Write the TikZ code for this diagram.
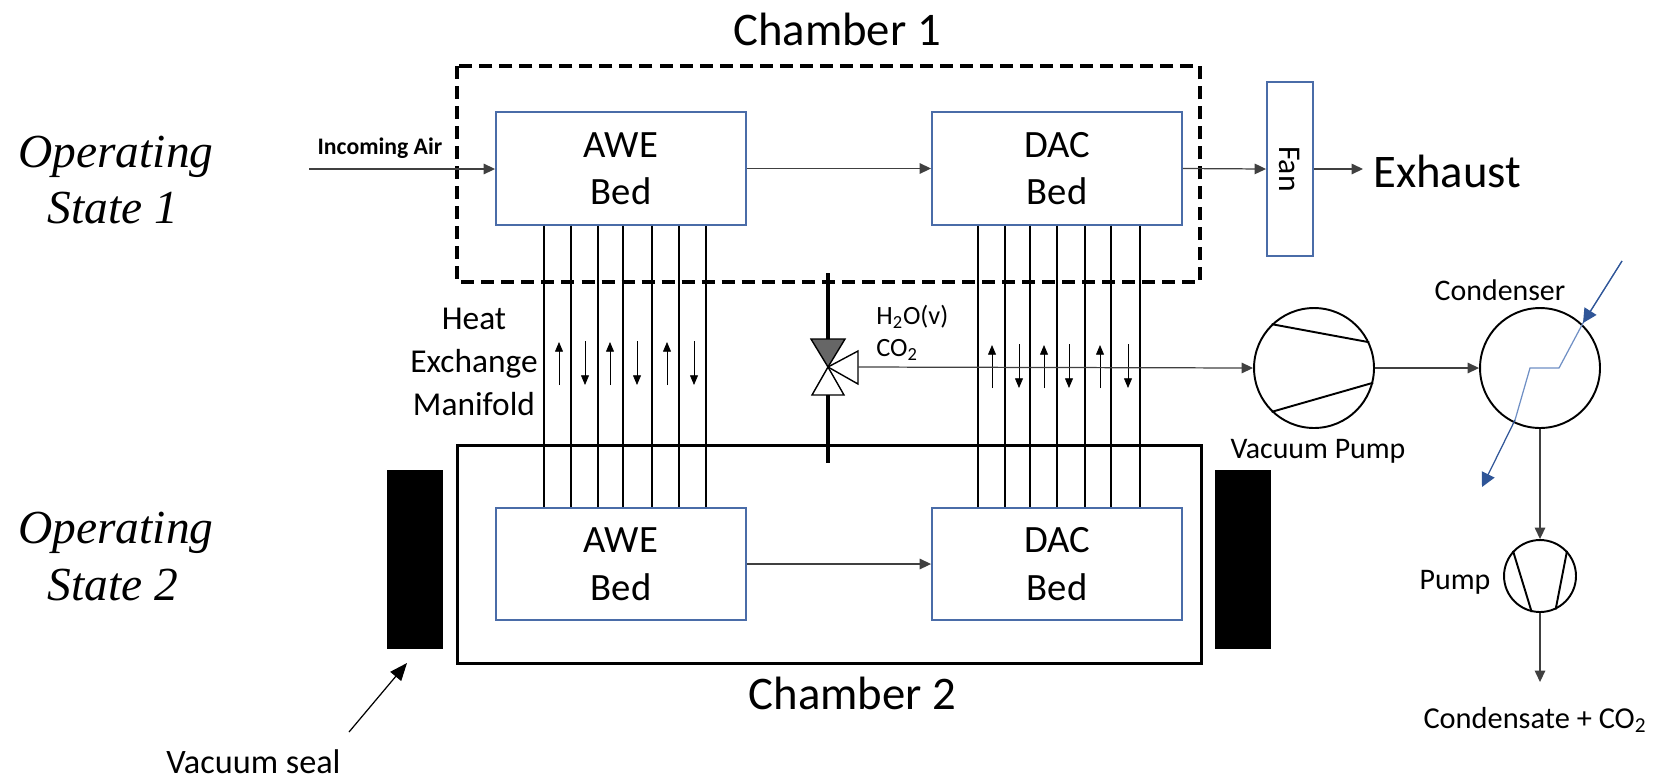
\documentclass[tikz,border=0pt]{standalone}
\usepackage{fontspec}
\setmainfont{Carlito}
\newfontfamily\opfont{Liberation Serif}
\usetikzlibrary{arrows.meta}
\definecolor{bedblue}{HTML}{4A6CA8}
\definecolor{coolblue}{HTML}{6F8FC4}
\definecolor{tipblue}{HTML}{2F5597}
\tikzset{
  bed/.style={draw=bedblue, line width=1.1pt, minimum width=5cm, minimum height=2.25cm, align=center, inner sep=0pt, font=\fontsize{22}{27}\selectfont},
  flow/.style={draw=black!75, line width=0.7pt, -{Triangle[length=6.5pt,width=6pt]}},
  tube/.style={line width=1pt},
  smallarrow/.style={line width=0.45pt, -{Triangle[length=5.5pt,width=4.5pt]}},
  machine/.style={draw, circle, line width=1.1pt, inner sep=0pt},
  optext/.style={font=\opfont\itshape\fontsize{27}{29}\selectfont, inner sep=0pt, anchor=base},
  label/.style={font=\fontsize{17}{20}\selectfont, inner sep=0pt},
  big/.style={font=\fontsize{26.6}{30}\selectfont, inner sep=0pt, anchor=base},
}
\begin{document}
\begin{tikzpicture}[x=0.02cm, y=-0.02cm]
\useasboundingbox (0,0) rectangle (1659,782);
%% chambers and seals
\draw[line width=1.75pt, dash pattern=on 7.4pt off 4pt] (457,66) rectangle (1200,282);
\draw[line width=1.7pt] (457,445) rectangle (1201,663);
\fill[black] (387,470) rectangle (443,649);
\fill[black] (1215,470) rectangle (1271,649);
%% beds
\node[bed] (aweup) at (621,168.5) {AWE\\Bed};
\node[bed] (dacup) at (1057,168.5) {DAC\\Bed};
\node[bed] (awelow) at (621,564) {AWE\\Bed};
\node[bed] (daclow) at (1057,564) {DAC\\Bed};
\node[draw=bedblue, line width=1.1pt, minimum width=0.92cm, minimum height=3.48cm, inner sep=0pt] (fan) at (1290,169) {};
\node[rotate=-90, inner sep=0pt, font=\fontsize{18}{20}\selectfont] (fantext) at (fan.center) {Fan};
%% manifold
\foreach \x in {544,571,598,623,652,679,706}
  \draw[tube] (aweup.south -| \x,0) -- (awelow.north -| \x,0);
\foreach \x in {978,1005,1030,1057,1085,1111,1140}
  \draw[tube] (dacup.south -| \x,0) -- (daclow.north -| \x,0);
\foreach \x in {559,610,667}
  \draw[smallarrow] (\x,385) -- (\x,342);
\foreach \x in {585,637,694}
  \draw[smallarrow] (\x,341) -- (\x,385);
\foreach \x in {992,1044,1100}
  \draw[smallarrow] (\x,388) -- (\x,345);
\foreach \x in {1019,1069,1128}
  \draw[smallarrow] (\x,344) -- (\x,388);
%% valve
\coordinate (V) at (828,367);
\coordinate (Vtop) at (828,273);
\coordinate (Vbot) at (828,463);
\draw[line width=2.6pt] (Vtop) -- (828,339);
\draw[line width=2.6pt] (828,395) -- (Vbot);
\filldraw[fill=black!60, line width=0.8pt] (V) -- (811,339) -- (845,339) -- cycle;
\draw[line width=0.8pt] (V) -- (812,395) -- (844,395) -- cycle;
\draw[line width=0.8pt] (V) -- (858,351) -- (858,384) -- cycle;
\coordinate (Vout) at (858,367);
%% machines
\node[machine, minimum size=2.4cm] (vacpump) at (1314,368) {};
\node[machine, minimum size=2.4cm] (condenser) at (1540,368) {};
\node[machine, minimum size=1.44cm] (pump) at (1540,576) {};
\draw[line width=1.1pt] (vacpump.134) -- (vacpump.25);
\draw[line width=1.1pt] (vacpump.226) -- (vacpump.-14);
\draw[line width=1.1pt] (pump.137) -- (pump.257);
\draw[line width=1.1pt] (pump.43) -- (pump.295);
%% cooling line
\draw[coolblue, line width=0.7pt] (1622,261) -- (1583,323) -- (1559,368) -- (1530,368) -- (1515,420);
\draw[tipblue, line width=0.7pt, -{Triangle[length=8pt,width=8pt]}] (1622,261) -- (1583,323);
\draw[tipblue, line width=0.7pt, -{Triangle[length=8pt,width=8pt]}] (1515,420) -- (1482,487);
%% labels
\node[big] (ch1) at (837,45) {Chamber 1};
\node[big] (ch2) at (852.5,709) {Chamber 2};
\node[optext] (op1a) at (116,167) {Operating};
\node[optext] (op1b) at (113,223) {State 1};
\node[optext] (op2a) at (116,543) {Operating};
\node[optext] (op2b) at (113,600) {State 2};
\node[inner sep=0pt, anchor=base, font=\bfseries\fontsize{13.5}{16}\selectfont] (air) at (380,154) {Incoming Air};
\node[big, anchor=base west] (exhaust) at (1373,187) {Exhaust};
\node[label, align=center, font=\fontsize{19}{24.4}\selectfont] (manifold) at (474,362) {Heat\\Exchange\\Manifold};
\node[label, font=\fontsize{15}{18}\selectfont, anchor=west] (water) at (876,317) {H\textsubscript{2}O(v)};
\node[label, font=\fontsize{15}{18}\selectfont, anchor=west] (co2) at (876,350) {CO\textsubscript{2}};
\node[label] (condlabel) at (1500,290) {Condenser};
\node[label] (vaclabel) at (1318,451) {Vacuum Pump};
\node[label] (pumplabel) at (1455,582) {Pump};
\node[label, font=\fontsize{17.3}{20}\selectfont] (product) at (1535,720) {Condensate + CO\textsubscript{2}};
\node[inner sep=0pt, anchor=base, font=\fontsize{19.5}{22}\selectfont] (seal) at (253.5,773) {Vacuum seal};
%% flows
\coordinate (airin) at (309,169);
\coordinate (sealfrom) at (349,732);
\coordinate (sealto) at (407,663);
\coordinate (outend) at (1540,682);
\coordinate (fanout) at (1363,169);
\draw[flow] (airin) -- (airin -| aweup.west);
\draw[flow] (aweup.east) -- (dacup.west);
\draw[flow] (dacup.east) -- (fan.west);
\draw[flow] (fan.east) -- (fanout);
\draw[flow] (awelow.east) -- (daclow.west);
\draw[flow] (Vout) -- (vacpump.west);
\draw[flow] (vacpump.east) -- (condenser.west);
\draw[flow] (condenser.south) -- (pump.north);
\draw[flow] (pump.south) -- (outend);
\draw[line width=0.7pt, -{Triangle[length=10pt,width=8pt]}] (sealfrom) -- (sealto);
\end{tikzpicture}
\end{document}
